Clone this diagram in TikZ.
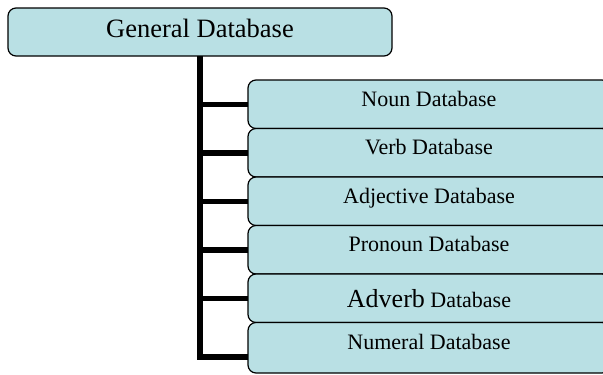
\documentclass[tikz,border=0pt]{standalone}
\usepackage{fontspec}
\setmainfont{Liberation Serif}
\usepackage{tikz}
\usetikzlibrary{positioning}
\definecolor{dbfill}{RGB}{185,224,228}

\begin{document}
\begin{tikzpicture}[x=1pt,y=-1pt,
    dbbox/.style={draw=black,line width=1.2pt,fill=dbfill,rounded corners=8pt,
        inner sep=0pt,outer sep=0pt,minimum width=362pt,minimum height=48.5pt,
        font=\fontsize{22}{26}\selectfont,text height=13pt,text depth=9pt},
    stub/.style={line width=5.5pt}]
    \useasboundingbox (0,0) rectangle (603,375);
    \clip (0,0) rectangle (603,375);
    \node[dbbox,minimum width=384pt,minimum height=48pt,font=\fontsize{26.5}{30}\selectfont,
        text height=21pt,text depth=10.5pt] (general) at (200,32) {General Database};
    \node[dbbox] (noun) at (429,104.25) {Noun Database};
    \node[dbbox,below=0pt of noun] (verb) {Verb Database};
    \node[dbbox,below=0pt of verb] (adjective) {Adjective Database};
    \node[dbbox,below=0pt of adjective] (pronoun) {Pronoun Database};
    \node[dbbox,below=0pt of pronoun,text height=27pt] (adverb) {{\fontsize{26}{30}\selectfont Adverb} Database};
    \node[dbbox,below=0pt of adverb,minimum height=50.5pt] (numeral) {Numeral Database};
    \draw[stub] (general.south) |- ([yshift=-9pt]numeral.west);
    \path[stub]
        (noun.west) edge (noun.west -| general.south)
        (verb.west) edge (verb.west -| general.south)
        (adjective.west) edge (adjective.west -| general.south)
        (pronoun.west) edge (pronoun.west -| general.south)
        (adverb.west) edge (adverb.west -| general.south);
\end{tikzpicture}
\end{document}
